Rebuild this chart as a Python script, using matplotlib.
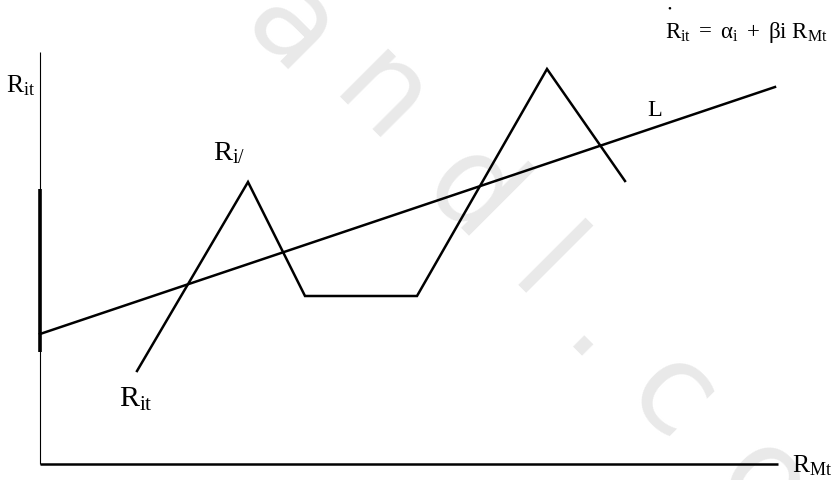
import matplotlib
matplotlib.use("Agg")
import matplotlib.pyplot as plt

plt.rcParams['mathtext.fontset'] = 'custom'
plt.rcParams['mathtext.rm'] = 'Liberation Serif'
plt.rcParams['mathtext.it'] = 'Liberation Serif:italic'
plt.rcParams['font.family'] = ['Liberation Serif', 'DejaVu Serif']

# ---- data (x = R_Mt units, y = R_it units; origin at the axes corner) ----
line_L_x = [0, 735]
line_L_y = [130, 377]

series_Rit_x = [97, 208, 265, 377, 507, 585]
series_Rit_y = [93, 282, 168, 168, 395, 283]

axis_x_end = 738
axis_y_top = 412
axis_y_thick = [112, 275]

watermark_letters = ['a', 'n', 'd', 'l', '.', 'c', 'o']
watermark_pos_px = [(290, 30), (380, 100), (470, 195), (542, 272), (597, 336), (670, 398), (762, 486)]

# ---- figure ----
W, H = 837, 481
fig = plt.figure(figsize=(W / 100, H / 100), dpi=100)
ax = fig.add_axes([0, 0, 1, 1])
OX, OY = 40, 465
ax.set_xlim(-OX, W - OX)
ax.set_ylim(-(H - OY), OY)
ax.axis('off')

def P(px, py):
    return px - OX, OY - py

# watermark
for ch, (px, py) in zip(watermark_letters, watermark_pos_px):
    x, y = P(px, py)
    ax.text(x, y, ch, fontsize=90, color='#e9e9e9', rotation=-45,
            ha='center', va='center', family='DejaVu Sans', zorder=0,
            rotation_mode='anchor')

# axes
ax.plot([0, 0], [0, axis_y_top], color='black', lw=0.8, solid_capstyle='butt', zorder=2)
ax.plot([0, 0], axis_y_thick, color='black', lw=2.6, solid_capstyle='butt', zorder=2)
ax.plot([0, axis_x_end], [0, 0], color='black', lw=1.8, solid_capstyle='butt', zorder=2)

# lines
ax.plot(line_L_x, line_L_y, color='black', lw=1.8, zorder=3)
ax.plot(series_Rit_x, series_Rit_y, color='black', lw=1.8, zorder=3,
        solid_joinstyle='miter')

# labels
def label(px, py, s, size):
    x, y = P(px, py)
    ax.text(x, y, s, fontsize=size, ha='left', va='baseline', color='black', zorder=4)

label(6, 92, r'$\mathrm{R_{it}}$', 18.5)
label(213, 160, r'$\mathrm{R_{i/}}$', 20.5)
label(119, 407, r'$\mathrm{R_{it}}$', 21.5)
label(647, 116, r'$\mathrm{L}$', 17.5)
label(792, 472, r'$\mathrm{R_{Mt}}$', 18.5)
label(665, 38, r'$\mathrm{R_{it}\ =\ α_{i}\ +\ βi\ R_{Mt}}$', 16.5)
dx, dy = P(669, 9)
ax.text(dx, dy, '•', fontsize=8, ha='center', va='center', color='black')

fig.savefig('out.png', dpi=100)
